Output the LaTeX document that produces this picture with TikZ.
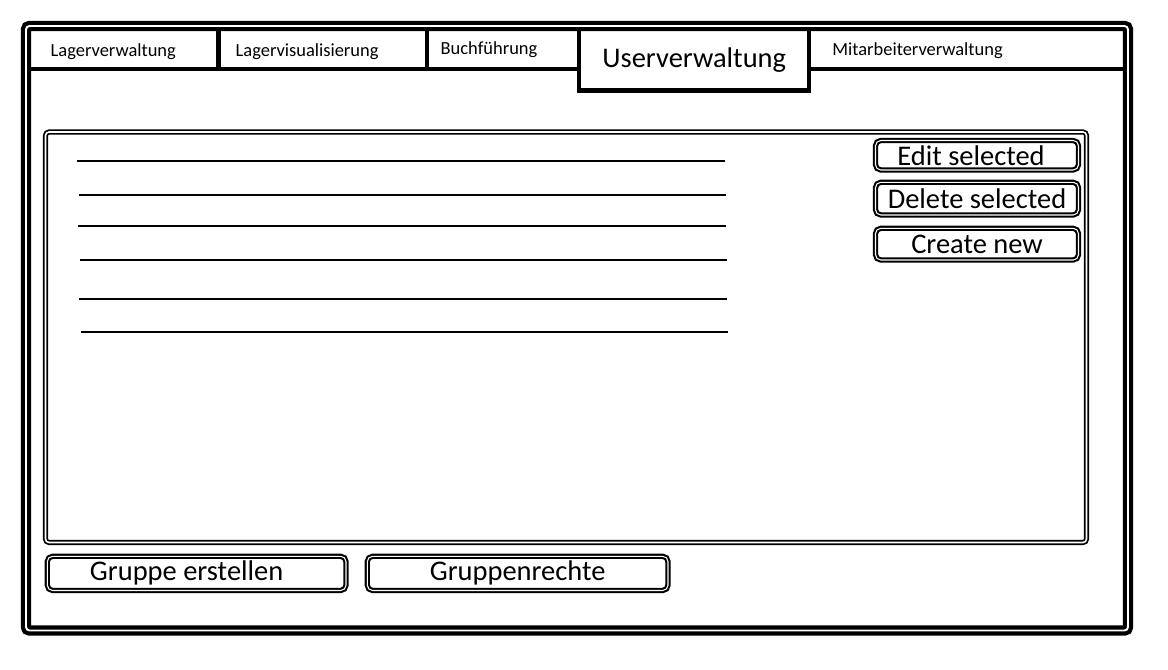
\documentclass[tikz,border=0pt]{standalone}
\usepackage{fontspec}
\setmainfont{Carlito}
\begin{document}
\begin{tikzpicture}[x=0.1mm,y=-0.1mm,
        frame/.style={line width=1.2pt,double,double distance=0.55pt,rounded corners=1pt},
        tabline/.style={line width=1.3pt},
        panel/.style={line width=0.5pt,double,double distance=0.45pt,rounded corners=1pt},
        entry/.style={line width=0.6pt},
        btn/.style={draw,line width=0.6pt,double,double distance=0.3pt,rounded corners=1.5pt,inner sep=1pt,font=\fontsize{8.1}{9}\selectfont},
        tabtext/.style={anchor=base west,inner sep=0pt,font=\fontsize{5.25}{6}\selectfont}]
        \useasboundingbox (0,0) rectangle (1168,670);

        \draw[frame] (26,26) rectangle (1128,630.5);

        % tabs
        \draw[tabline] (30.5,69) -- (579,69);
        \draw[tabline] (809,69) -- (1123.5,69);
        \draw[tabline] (218.5,30.5) -- (218.5,69);
        \draw[tabline] (427,30.5) -- (427,69);
        \draw[tabline] (579,30.5) -- (579,90.5) -- (809,90.5) -- (809,30.5);

        \node[tabtext] (lager) at (50,57) {Lagerverwaltung};
        \node[tabtext] (visual) at (235,56.7) {Lagervisualisierung};
        \node[tabtext] (buch) at (440,54.5) {Buchführung};
        \node[tabtext,font=\fontsize{8.1}{9}\selectfont] (user) at (601.7,67.3) {Userverwaltung};
        \node[tabtext] (staff) at (831.7,56) {Mitarbeiterverwaltung};

        % user list
        \draw[panel] (45.5,132) rectangle (1086.5,542.5);
        \draw[entry] (77,160.7) -- (725,160.7);
        \draw[entry] (79,195) -- (726,195);
        \draw[entry] (78,225.7) -- (726,225.7);
        \draw[entry] (80,260) -- (727,260);
        \draw[entry] (79,299) -- (727,299);
        \draw[entry] (81,332.3) -- (728,332.3);

        % buttons
        \node[btn,minimum width=20.3mm,minimum height=2.95mm] (edit) at (977,155.25) {Edit selected\kern3.4pt};
        \node[btn,minimum width=20.3mm,minimum height=3.27mm] (delete) at (977,198.65) {Delete selected};
        \node[btn,minimum width=20.3mm,minimum height=3.17mm] (create) at (977,244.15) {Create new};
        \node[btn,minimum width=29.87mm,minimum height=3.42mm] (group) at (196.65,573.4) {Gruppe erstellen\kern5.7pt};
        \node[btn,minimum width=30.07mm,minimum height=3.42mm] (rights) at (517.65,573.4) {Gruppenrechte};
\end{tikzpicture}
\end{document}
